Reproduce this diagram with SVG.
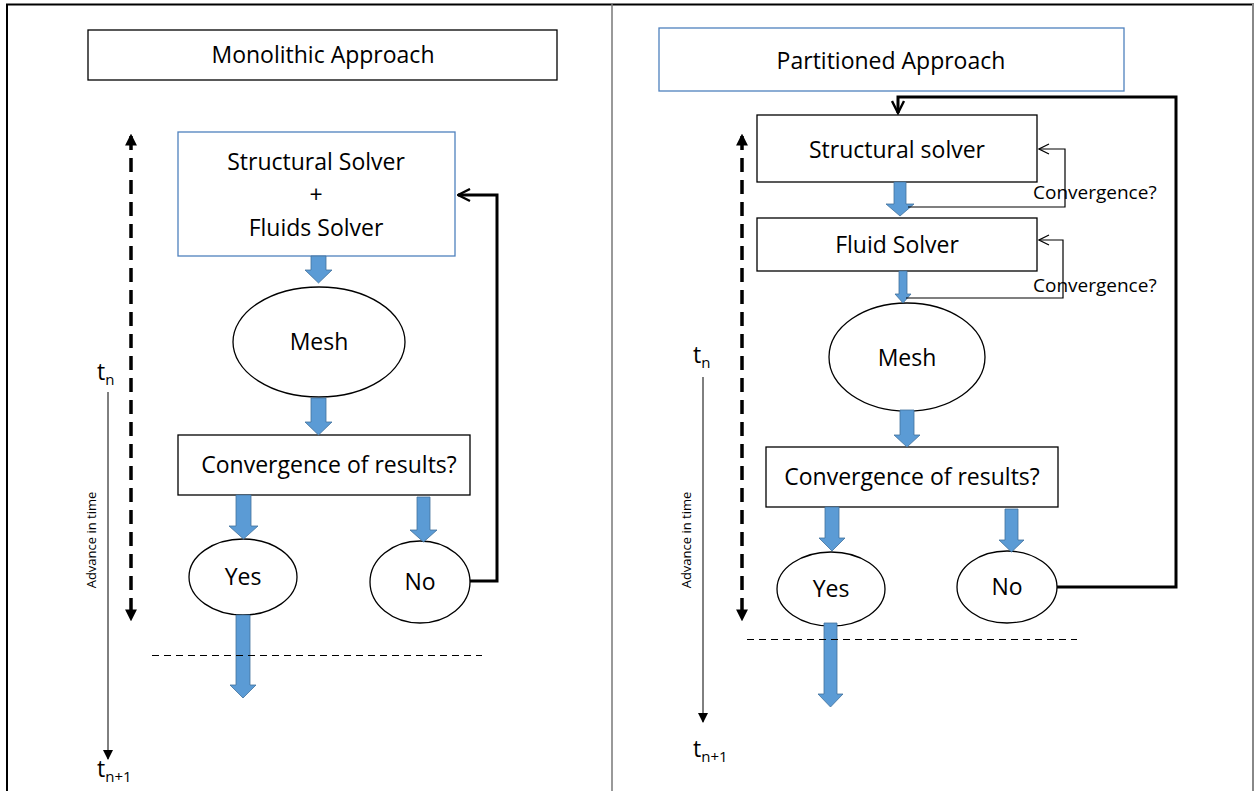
<svg xmlns="http://www.w3.org/2000/svg" width="1255" height="791" viewBox="0 0 1255 791">
  <style>
    text { font-family: "Open Sans", "Liberation Sans", Arial, sans-serif; fill: #000; }
    .lbl { font-size: 23px; text-anchor: middle; }
    .small { font-size: 19px; }
    .tsym { font-size: 23px; }
    .tiny { font-size: 13px; text-anchor: middle; }
    .box { fill: #fff; stroke: #000; stroke-width: 1.3; }
    .bbox { fill: #fff; stroke: #4f81bd; stroke-width: 1.3; }
    .ell { fill: #fff; stroke: #000; stroke-width: 1.3; }
    .blk { fill: #5b9bd5; stroke: #41719c; stroke-width: 0.8; }
    .loop { fill: none; stroke: #000; stroke-width: 3; }
    .thin { fill: none; stroke: #000; stroke-width: 1.2; }
    .dash { fill: none; stroke: #000; stroke-width: 3.5; stroke-dasharray: 14 8; }
    .sep { fill: none; stroke: #000; stroke-width: 1; stroke-dasharray: 7 5; }
    .time { fill: none; stroke: #000; stroke-width: 1; }
  </style>
  <defs>
    <marker id="openHead" viewBox="0 0 10 10" refX="9" refY="5" markerWidth="5" markerHeight="5" orient="auto-start-reverse" markerUnits="strokeWidth">
      <path d="M1,1 L9,5 L1,9" fill="none" stroke="#000" stroke-width="1.6"/>
    </marker>
    <marker id="thinHead" viewBox="0 0 12 12" refX="11" refY="6" markerWidth="12" markerHeight="12" orient="auto" markerUnits="userSpaceOnUse">
      <path d="M1,1 L11,6 L1,11" fill="none" stroke="#000" stroke-width="1.2"/>
    </marker>
    <marker id="solidHead" viewBox="0 0 10 10" refX="8" refY="5" markerWidth="3.4" markerHeight="3.4" orient="auto-start-reverse" markerUnits="strokeWidth">
      <path d="M0,0 L10,5 L0,10 z" fill="#000"/>
    </marker>
    <marker id="timeHead" viewBox="0 0 10 10" refX="9" refY="5" markerWidth="10" markerHeight="10" orient="auto" markerUnits="userSpaceOnUse">
      <path d="M0,0 L10,5 L0,10 z" fill="#000"/>
    </marker>
  </defs>

  <!-- frame and divider -->
  <rect x="7" y="4.5" width="1246" height="800" fill="none" stroke="#000" stroke-width="2"/>
  <line x1="1253" y1="4" x2="1253" y2="791" stroke="#888" stroke-width="2"/>
  <line x1="612" y1="4" x2="612" y2="791" stroke="#777" stroke-width="1.5"/>

  <!-- ===== Monolithic side ===== -->
  <g id="mono-title">
    <rect class="box" x="88" y="30" width="469" height="50"/>
    <text class="lbl" x="323" y="63">Monolithic Approach</text>
  </g>
  <g id="mono-solver">
    <rect class="bbox" x="178" y="132" width="277" height="124"/>
    <text class="lbl" x="316" y="170">Structural Solver</text>
    <text class="lbl" x="316" y="203">+</text>
    <text class="lbl" x="316" y="236">Fluids Solver</text>
  </g>
  <g id="mono-mesh">
    <ellipse class="ell" cx="319" cy="342" rx="86" ry="55"/>
    <text class="lbl" x="319" y="350">Mesh</text>
  </g>
  <g id="mono-conv">
    <rect class="box" x="178" y="435" width="292" height="60"/>
    <text class="lbl" x="329" y="473">Convergence of results?</text>
  </g>
  <g id="mono-yes">
    <ellipse class="ell" cx="243" cy="577" rx="54" ry="38"/>
    <text class="lbl" x="243" y="585">Yes</text>
  </g>
  <g id="mono-no">
    <ellipse class="ell" cx="420" cy="582" rx="50" ry="41"/>
    <text class="lbl" x="420" y="590">No</text>
  </g>
  <g id="mono-time">
    <text class="tsym" x="97" y="380">t<tspan font-size="15" dy="5">n</tspan></text>
    <text class="tsym" x="97" y="777">t<tspan font-size="15" dy="5">n+1</tspan></text>
    <text class="tiny" transform="translate(96,540) rotate(-90)">Advance in time</text>
  </g>

  <!-- ===== Partitioned side ===== -->
  <g id="part-title">
    <rect class="bbox" x="659" y="28" width="465" height="63"/>
    <text class="lbl" x="891" y="69">Partitioned Approach</text>
  </g>
  <g id="part-struct">
    <rect class="box" x="757" y="115" width="280" height="67"/>
    <text class="lbl" x="897" y="158">Structural solver</text>
  </g>
  <g id="part-fluid">
    <rect class="box" x="757" y="218" width="280" height="53"/>
    <text class="lbl" x="897" y="253">Fluid Solver</text>
  </g>
  <g id="part-mesh">
    <ellipse class="ell" cx="907" cy="357" rx="78" ry="54"/>
    <text class="lbl" x="907" y="366">Mesh</text>
  </g>
  <g id="part-conv">
    <rect class="box" x="766" y="447" width="292" height="60"/>
    <text class="lbl" x="912" y="485">Convergence of results?</text>
  </g>
  <g id="part-yes">
    <ellipse class="ell" cx="831" cy="589" rx="54" ry="37"/>
    <text class="lbl" x="831" y="597">Yes</text>
  </g>
  <g id="part-no">
    <ellipse class="ell" cx="1007" cy="587" rx="50" ry="36"/>
    <text class="lbl" x="1007" y="595">No</text>
  </g>
  <g id="part-time">
    <text class="tsym" x="693" y="363">t<tspan font-size="15" dy="5">n</tspan></text>
    <text class="tsym" x="693" y="757">t<tspan font-size="15" dy="5">n+1</tspan></text>
    <text class="tiny" transform="translate(691,540) rotate(-90)">Advance in time</text>
  </g>

  <!-- ===== connectors ===== -->
  <g id="connectors">
    <!-- block arrows, monolithic -->
    <path class="blk" d="M311,256 H326 V270 H332 L318.5,283 L305,270 H311 Z"/>
    <path class="blk" d="M311,398 H326 V422 H332 L318.5,435 L305,422 H311 Z"/>
    <path class="blk" d="M236,495 H251 V526 H258 L243.5,539 L229,526 H236 Z"/>
    <path class="blk" d="M417,497 H430 V530 H437 L423.5,542 L410,530 H417 Z"/>
    <path class="blk" d="M236,615 H250 V685 H256 L243,698 L230,685 H236 Z"/>

    <!-- block arrows, partitioned -->
    <path class="blk" d="M894,182 H906 V204 H914 L900,216 L886,204 H894 Z"/>
    <path class="blk" d="M899,271 H907 V294 H911 L903,303 L895,294 H899 Z"/>
    <path class="blk" d="M900,410 H914 V435 H920 L907,447 L894,435 H900 Z"/>
    <path class="blk" d="M825,507 H839 V538 H845 L832,551 L819,538 H825 Z"/>
    <path class="blk" d="M1005,509 H1018 V540 H1024 L1011.5,552 L999,540 H1005 Z"/>
    <path class="blk" d="M824,623 H837 V694 H843 L830.5,707 L818,694 H824 Z"/>

    <!-- iteration loops -->
    <path class="loop" d="M470,581 H497 V195 H458" marker-end="url(#openHead)"/>
    <path class="loop" d="M1057,587 H1176 V97 H898 V113" marker-end="url(#openHead)"/>
    <path class="thin" d="M908,207 H1065 V149 H1039" marker-end="url(#thinHead)"/>
    <path class="thin" d="M906,298 H1063 V240 H1039" marker-end="url(#thinHead)"/>
    <text class="small" x="1033" y="199">Convergence?</text>
    <text class="small" x="1033" y="292">Convergence?</text>

    <!-- time-step span markers -->
    <path class="dash" d="M131,136 V619" marker-start="url(#solidHead)" marker-end="url(#solidHead)"/>
    <path class="dash" d="M742,136 V619" marker-start="url(#solidHead)" marker-end="url(#solidHead)"/>
    <line class="time" x1="108" y1="392" x2="108" y2="759" marker-end="url(#timeHead)"/>
    <line class="time" x1="703" y1="377" x2="703" y2="722" stroke="#888" marker-end="url(#timeHead)"/>

    <!-- step boundaries -->
    <line class="sep" x1="152" y1="655.5" x2="482" y2="655.5"/>
    <line class="sep" x1="747" y1="639.5" x2="1077" y2="639.5"/>
  </g>
</svg>
